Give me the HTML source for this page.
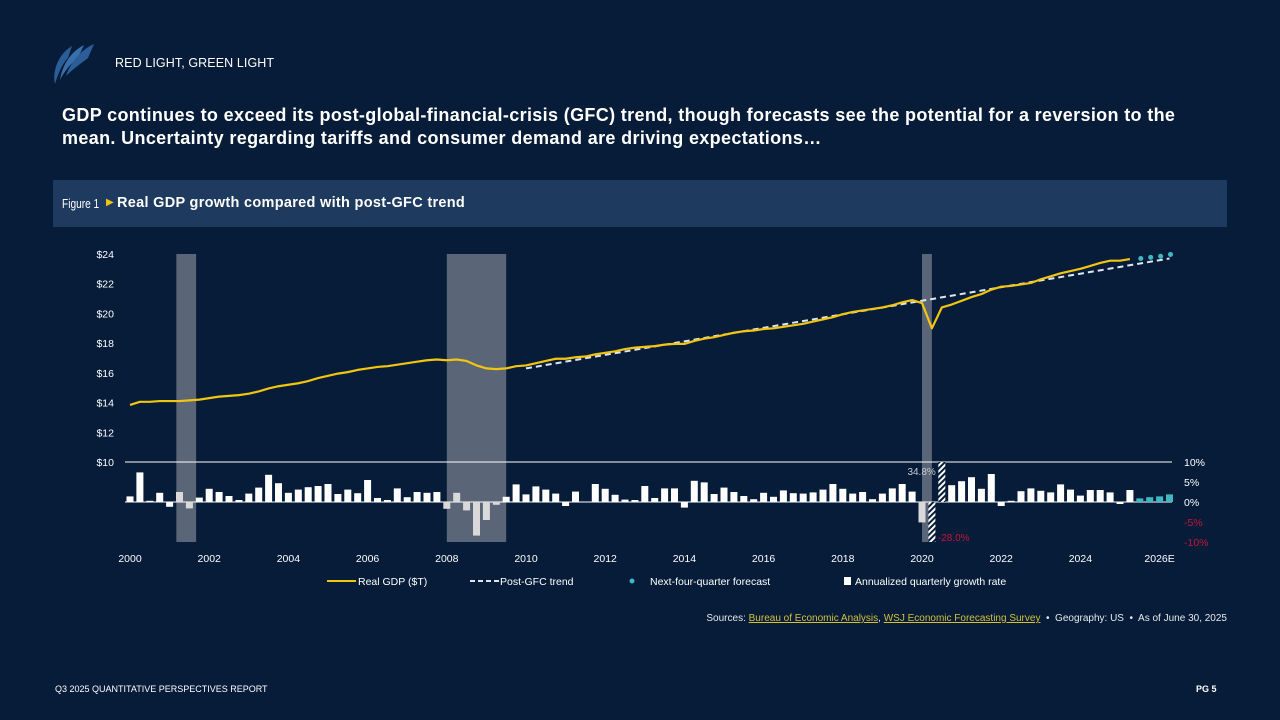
<!DOCTYPE html>
<html><head><meta charset="utf-8"><style>
html,body{margin:0;padding:0;}
body{width:1280px;height:720px;background:#061c38;position:relative;overflow:hidden;font-family:"Liberation Sans",sans-serif;color:#fff;}
.abs{position:absolute;}
#kicker{left:115px;top:56px;font-size:12.5px;letter-spacing:0.1px;}
#title{left:62px;top:104px;width:1140px;font-size:18px;font-weight:bold;line-height:23px;letter-spacing:0.35px;}
#band{left:53px;top:180px;width:1174px;height:47px;background:#1e3a5f;}
#band span{position:absolute;top:15px;font-size:14px;}
#sources{right:53px;top:613px;font-size:10px;color:#e6e9ee;}
#sources a{color:#d4c13a;text-decoration:underline;}
#footer{left:55px;top:684px;font-size:9px;}
#pg{left:1196px;top:684px;font-size:9px;font-weight:bold;}
svg text{font-family:"Liberation Sans Narrow","Liberation Sans",sans-serif;}
</style></head><body>
<svg class="abs" style="left:52px;top:42px" width="44" height="44">
<path d="M3 42 C0 30 6 12 20 4 L16 16 C10 22 6 32 3 42Z" fill="#2b5d98"/>
<path d="M8 38 C10 24 18 10 32 3 L26 16 C18 22 12 30 8 38Z" fill="#3a6ea8"/>
<path d="M14 34 C18 22 28 8 42 2 L36 16 C28 22 20 28 14 34Z" fill="#2b5d98"/>
</svg>
<div id="kicker" class="abs">RED LIGHT, GREEN LIGHT</div>
<div id="title" class="abs">GDP continues to exceed its post-global-financial-crisis (GFC) trend, though forecasts see the potential for a reversion to the mean. Uncertainty regarding tariffs and consumer demand are driving expectations…</div>
<div id="band" class="abs">
<span style="left:9px;top:16px;font-size:13px;display:inline-block;transform:scaleX(0.78);transform-origin:left;">Figure 1</span>
<span style="left:53px;top:17px;color:#f2c511;font-size:10px;">▶</span>
<span style="left:64px;font-weight:bold;font-size:14.5px;letter-spacing:0.3px;">Real GDP growth compared with post-GFC trend</span>
</div>
<svg id="chart" class="abs" style="left:0;top:0" width="1280" height="720"></svg>
<div id="sources" class="abs">Sources: <a>Bureau of Economic Analysis</a>, <a>WSJ Economic Forecasting Survey</a> &nbsp;•&nbsp; Geography: US &nbsp;•&nbsp; As of June 30, 2025</div>
<div id="footer" class="abs">Q3 2025 QUANTITATIVE PERSPECTIVES REPORT</div>
<div id="pg" class="abs">PG 5</div>
<script>
const gdp = [13.84,14.05,14.05,14.1, 14.1,14.1,14.15,14.2, 14.3,14.4,14.45,14.5, 14.6,14.75,14.95,15.1,
 15.2,15.3,15.45,15.65, 15.8,15.95,16.05,16.2, 16.3,16.4,16.45,16.55, 16.65,16.75,16.85,16.9,
 16.85,16.9,16.8,16.5, 16.3,16.25,16.3,16.45, 16.5,16.65,16.8,16.95, 16.95,17.05,17.1,17.25,
 17.35,17.45,17.6,17.7, 17.75,17.8,17.9,17.95, 17.95,18.15,18.3,18.4, 18.55,18.7,18.8,18.85,
 18.95,19.0,19.1,19.2, 19.3,19.45,19.6,19.75, 19.95,20.1,20.2,20.3, 20.4,20.55,20.75,20.9,
 20.7,19.0,20.4,20.6, 20.85,21.1,21.3,21.6, 21.8,21.85,21.95,22.05, 22.3,22.5,22.7,22.85,
 23.0,23.2,23.4,23.55, 23.55,23.66];
const forecastGdp = [23.7,23.77,23.85,23.97];
const trendIdx = [40,105];
const trendVal = [16.3,23.7];
const growth = [1.4,7.4,0.3,2.3,-1.2,2.5,-1.6,1.1,3.3,2.5,1.5,0.5,2.1,3.6,6.8,4.7,2.3,3.1,3.7,4.0,4.5,2.0,3.1,2.2,
 5.5,1.0,0.5,3.4,1.2,2.5,2.3,2.5,-1.7,2.3,-2.1,-8.4,-4.5,-0.7,1.3,4.4,1.9,3.9,3.1,2.1,-1.0,2.6,0.1,4.5,
 3.3,1.8,0.6,0.5,4.0,1.0,3.4,3.4,-1.4,5.3,4.9,2.0,3.6,2.5,1.5,0.7,2.3,1.3,2.9,2.2,2.1,2.4,3.1,4.5,
 3.3,2.1,2.5,0.7,2.1,3.4,4.5,2.6,-5.1,-28.0,34.8,4.2,5.2,6.2,3.3,7.0,-1.0,0.3,2.7,3.4,2.8,2.4,4.4,3.1,
 1.6,3.0,3.0,2.4,-0.5,3.0];
const forecastGrowth = [0.9,1.2,1.4,1.9];
const recessions = [[2001.17,2001.67],[2008.0,2009.5],[2020.0,2020.25]];
const yearTicks = ["2000","2002","2004","2006","2008","2010","2012","2014","2016","2018","2020","2022","2024","2026E"];
const dollarTicks = [10,12,14,16,18,20,22,24];
const pctTicks = [10,5,0,-5,-10];

const NS="http://www.w3.org/2000/svg";
const svg=document.getElementById('chart');
const xq=i=>130+i*9.9;
const xy=yr=>130+(yr-2000)*4*9.9;
const yD=v=>462-(v-10)*14.857;
const yP=p=>502-p*4;
function mk(tag,attrs,parent){const e=document.createElementNS(NS,tag);for(const k in attrs)e.setAttribute(k,attrs[k]);(parent||svg).appendChild(e);return e;}

recessions.forEach(r=>{
 const e=mk('rect',{x:xy(r[0]),y:254,width:xy(r[1])-xy(r[0]),height:288,fill:'#5a6577'});
 
 
});
const defs=mk('defs',{});
const pat=mk('pattern',{id:'hatch',width:4,height:4,patternUnits:'userSpaceOnUse',patternTransform:'rotate(45)'},defs);
mk('rect',{width:4,height:4,fill:'#061c38'},pat);
mk('rect',{width:2,height:4,fill:'#ffffff'},pat);

dollarTicks.forEach(v=>{
 const t=mk('text',{x:114,y:yD(v)+4,'text-anchor':'end','font-size':10.5,fill:'#ffffff'});
 t.textContent='$'+v;
 
 
});
pctTicks.forEach(p=>{
 const t=mk('text',{x:1184,y:yP(p)+4,'font-size':10.5,fill:p<0?'#c0163a':'#ffffff'});
 t.textContent=p+'%';
 
 
});
yearTicks.forEach((l,i)=>{
 const t=mk('text',{x:xy(2000+2*i),y:562,'text-anchor':'middle','font-size':10.5,fill:'#ffffff'});
 t.textContent=l;
 
 
});
const l1=mk('line',{x1:125,x2:1172,y1:462,y2:462,stroke:'#fff','stroke-width':1});


const l0=mk('line',{x1:125,x2:1172,y1:502,y2:502,stroke:'#fff','stroke-width':1});



const bw=7;
growth.forEach((g,i)=>{
 const x=xq(i)-bw/2;
 let clipped=Math.max(-10,Math.min(10,g));
 const big=Math.abs(g)>10;
 const inRec=recessions.some(r=>{const yr=2000+i/4;return yr>=r[0]-0.01&&yr<r[1]-0.01;});
 const b=mk('rect',{x:x,y:Math.min(yP(clipped),502),width:bw,height:Math.abs(clipped*4),fill:big?'url(#hatch)':(inRec?'#d9d9d9':'#ffffff')});
 
 
 if(big){
  const t=mk('text',{x:g>0?xq(i)-6:xq(i)+6,y:g>0?yP(10)+13:yP(-10)-1,'text-anchor':g>0?'end':'start','font-size':10,fill:g>0?'#c8ccd3':'#c0163a'});
  t.textContent=g.toFixed(1)+'%';
  
  
 }
});
forecastGrowth.forEach((g,i)=>{
 const b=mk('rect',{x:xq(growth.length+i)-bw/2,y:yP(g),width:bw,height:g*4,fill:'#3fb8c4'});
 
 
});

const tr=mk('line',{x1:xq(trendIdx[0]),y1:yD(trendVal[0]),x2:xq(trendIdx[1]),y2:yD(trendVal[1]),stroke:'#dfe6f0','stroke-width':2,'stroke-dasharray':'6,4'});


const gl=mk('polyline',{points:gdp.map((v,i)=>xq(i)+','+yD(v)).join(' '),fill:'none',stroke:'#f2c511','stroke-width':2.2,'stroke-linejoin':'round'});


forecastGdp.forEach((v,i)=>{
 const c=mk('circle',{cx:xq(gdp.length+i)+1,cy:yD(v),r:2.5,fill:'#3fb8c4'});
 
 
});

const lg=mk('g',{});


mk('line',{x1:327,x2:356,y1:581,y2:581,stroke:'#f2c511','stroke-width':2},lg);
let t=mk('text',{x:358,y:585,'font-size':10.5,fill:'#fff'},lg);t.textContent='Real GDP ($T)';
mk('line',{x1:470,x2:499,y1:581,y2:581,stroke:'#dfe6f0','stroke-width':2,'stroke-dasharray':'5,3'},lg);
t=mk('text',{x:500,y:585,'font-size':10.5,fill:'#fff'},lg);t.textContent='Post-GFC trend';
mk('circle',{cx:632,cy:581,r:2.5,fill:'#3fb8c4'},lg);
t=mk('text',{x:650,y:585,'font-size':10.5,fill:'#fff'},lg);t.textContent='Next-four-quarter forecast';
mk('rect',{x:844,y:577,width:7,height:8,fill:'#fff'},lg);
t=mk('text',{x:855,y:585,'font-size':10.5,fill:'#fff'},lg);t.textContent='Annualized quarterly growth rate';
</script>
</body></html>
